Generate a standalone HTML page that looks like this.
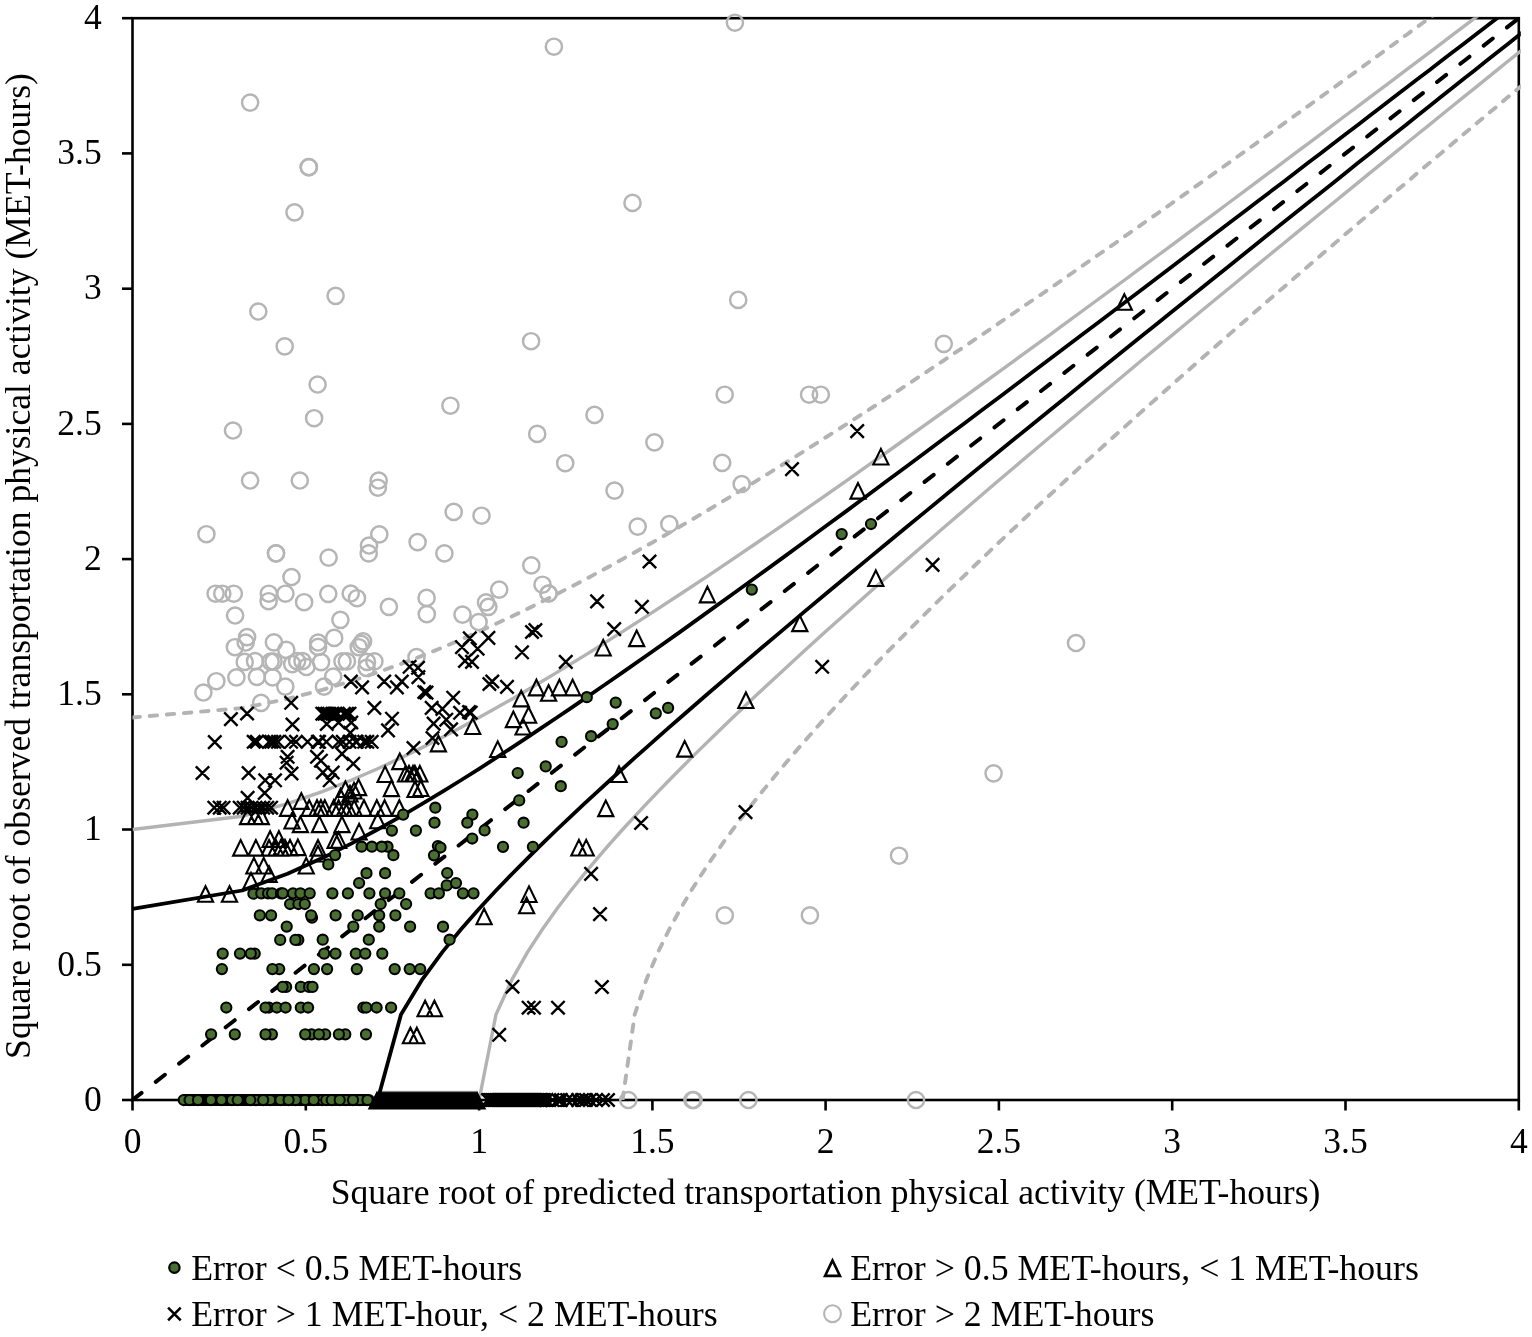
<!DOCTYPE html>
<html><head><meta charset="utf-8"><style>
html,body{margin:0;padding:0;background:#fff;}
svg{display:block;}
text{font-family:"Liberation Serif", "Times New Roman", serif;font-size:35.5px;fill:#000;}
</style></head><body>
<svg width="1532" height="1337" viewBox="0 0 1532 1337">
<rect width="1532" height="1337" fill="#fff"/>
<rect x="132.5" y="18.2" width="1386.3" height="1081.8" fill="none" stroke="#000" stroke-width="2.6"/>
<line x1="122.0" y1="1100.0" x2="132.5" y2="1100.0" stroke="#000" stroke-width="2.6"/>
<line x1="132.5" y1="1100.0" x2="132.5" y2="1110.5" stroke="#000" stroke-width="2.6"/>
<line x1="122.0" y1="964.8" x2="132.5" y2="964.8" stroke="#000" stroke-width="2.6"/>
<line x1="305.8" y1="1100.0" x2="305.8" y2="1110.5" stroke="#000" stroke-width="2.6"/>
<line x1="122.0" y1="829.5" x2="132.5" y2="829.5" stroke="#000" stroke-width="2.6"/>
<line x1="479.1" y1="1100.0" x2="479.1" y2="1110.5" stroke="#000" stroke-width="2.6"/>
<line x1="122.0" y1="694.3" x2="132.5" y2="694.3" stroke="#000" stroke-width="2.6"/>
<line x1="652.4" y1="1100.0" x2="652.4" y2="1110.5" stroke="#000" stroke-width="2.6"/>
<line x1="122.0" y1="559.1" x2="132.5" y2="559.1" stroke="#000" stroke-width="2.6"/>
<line x1="825.6" y1="1100.0" x2="825.6" y2="1110.5" stroke="#000" stroke-width="2.6"/>
<line x1="122.0" y1="423.9" x2="132.5" y2="423.9" stroke="#000" stroke-width="2.6"/>
<line x1="998.9" y1="1100.0" x2="998.9" y2="1110.5" stroke="#000" stroke-width="2.6"/>
<line x1="122.0" y1="288.7" x2="132.5" y2="288.7" stroke="#000" stroke-width="2.6"/>
<line x1="1172.2" y1="1100.0" x2="1172.2" y2="1110.5" stroke="#000" stroke-width="2.6"/>
<line x1="122.0" y1="153.4" x2="132.5" y2="153.4" stroke="#000" stroke-width="2.6"/>
<line x1="1345.5" y1="1100.0" x2="1345.5" y2="1110.5" stroke="#000" stroke-width="2.6"/>
<line x1="122.0" y1="18.2" x2="132.5" y2="18.2" stroke="#000" stroke-width="2.6"/>
<line x1="1518.8" y1="1100.0" x2="1518.8" y2="1110.5" stroke="#000" stroke-width="2.6"/>
<defs><clipPath id="pc"><rect x="132.5" y="17.2" width="1388.3" height="1082.8"/></clipPath></defs>
<g clip-path="url(#pc)" fill="none" stroke-linejoin="round">
<polyline points="132.5,717.5 242.1,708.1 287.5,698.9 322.3,689.8 351.7,681.0 377.6,672.4 401.0,663.9 422.5,655.6 442.5,647.5 461.3,639.4 479.1,631.6 496.0,623.8 512.2,616.2 527.7,608.7 542.6,601.3 557.0,594.0 570.9,586.9 584.4,579.8 597.5,572.8 610.2,565.9 622.6,559.1 652.4,542.5 680.5,526.3 707.2,510.6 732.8,495.3 757.3,480.3 780.9,465.7 803.6,451.5 825.6,437.5 847.0,423.9 867.7,410.5 887.8,397.4 907.5,384.5 926.6,371.8 945.3,359.3 963.6,347.1 981.4,335.1 998.9,323.2 1016.1,311.5 1032.9,300.0 1049.5,288.7 1065.7,277.5 1081.6,266.4 1097.3,255.5 1112.8,244.8 1128.0,234.1 1142.9,223.6 1157.7,213.3 1172.2,203.0 1186.6,192.9 1200.7,182.9 1214.7,172.9 1228.5,163.1 1242.1,153.4 1255.5,143.8 1268.8,134.3 1282.0,124.9 1294.9,115.5 1307.8,106.3 1320.5,97.1 1333.1,88.1 1345.5,79.1 1357.8,70.2 1370.0,61.3 1382.1,52.6 1394.1,43.9 1405.9,35.2 1417.6,26.7 1429.3,18.2 1440.8,9.8 1452.2,1.4 1463.5,-6.9 1474.8,-15.1 1485.9,-23.3 1497.0,-31.4 1507.9,-39.4 1518.8,-47.4 1529.6,-55.4 1540.3,-63.2 1550.9,-71.1" stroke="#b3b3b3" stroke-width="3.9" stroke-dasharray="7.5,9.7" stroke-linecap="round"/>
<polyline points="622.6,1100.0 634.7,1014.5 646.6,979.1 658.1,951.9 669.4,929.0 680.5,908.8 691.3,890.5 702.0,873.7 712.4,858.1 722.7,843.4 732.8,829.5 742.7,816.3 752.5,803.7 762.1,791.6 771.6,780.0 780.9,768.8 790.1,757.9 799.2,747.4 808.1,737.2 816.9,727.2 825.6,717.5 847.0,694.3 867.7,672.4 887.8,651.5 907.5,631.6 926.6,612.4 945.3,594.0 963.6,576.3 981.4,559.1 998.9,542.5 1016.1,526.3 1032.9,510.6 1049.5,495.3 1065.7,480.3 1081.6,465.7 1097.3,451.5 1112.8,437.5 1128.0,423.9 1142.9,410.5 1157.7,397.4 1172.2,384.5 1186.6,371.8 1200.7,359.3 1214.7,347.1 1228.5,335.1 1242.1,323.2 1255.5,311.5 1268.8,300.0 1282.0,288.7 1294.9,277.5 1307.8,266.4 1320.5,255.5 1333.1,244.8 1345.5,234.1 1357.8,223.6 1370.0,213.3 1382.1,203.0 1394.1,192.9 1405.9,182.9 1417.6,172.9 1429.3,163.1 1440.8,153.4 1452.2,143.8 1463.5,134.3 1474.8,124.9 1485.9,115.5 1497.0,106.3 1507.9,97.1 1518.8,88.1 1529.6,79.1 1540.3,70.2 1550.9,61.3 1561.5,52.6 1571.9,43.9 1582.3,35.2 1592.6,26.7 1602.9,18.2 1613.1,9.8 1623.2,1.4 1633.2,-6.9" stroke="#b3b3b3" stroke-width="3.9" stroke-dasharray="7.5,9.7" stroke-linecap="round"/>
<polyline points="132.5,829.5 242.1,816.3 287.5,803.7 322.3,791.6 351.7,780.0 377.6,768.8 401.0,757.9 422.5,747.4 442.5,737.2 461.3,727.2 479.1,717.5 496.0,708.1 512.2,698.9 527.7,689.8 542.6,681.0 557.0,672.4 570.9,663.9 584.4,655.6 597.5,647.5 610.2,639.4 622.6,631.6 652.4,612.4 680.5,594.0 707.2,576.3 732.8,559.1 757.3,542.5 780.9,526.3 803.6,510.6 825.6,495.3 847.0,480.3 867.7,465.7 887.8,451.5 907.5,437.5 926.6,423.9 945.3,410.5 963.6,397.4 981.4,384.5 998.9,371.8 1016.1,359.3 1032.9,347.1 1049.5,335.1 1065.7,323.2 1081.6,311.5 1097.3,300.0 1112.8,288.7 1128.0,277.5 1142.9,266.4 1157.7,255.5 1172.2,244.8 1186.6,234.1 1200.7,223.6 1214.7,213.3 1228.5,203.0 1242.1,192.9 1255.5,182.9 1268.8,172.9 1282.0,163.1 1294.9,153.4 1307.8,143.8 1320.5,134.3 1333.1,124.9 1345.5,115.5 1357.8,106.3 1370.0,97.1 1382.1,88.1 1394.1,79.1 1405.9,70.2 1417.6,61.3 1429.3,52.6 1440.8,43.9 1452.2,35.2 1463.5,26.7 1474.8,18.2 1485.9,9.8 1497.0,1.4 1507.9,-6.9 1518.8,-15.1 1529.6,-23.3 1540.3,-31.4 1550.9,-39.4" stroke="#b3b3b3" stroke-width="3.4"/>
<polyline points="479.1,1100.0 496.0,1014.5 512.2,979.1 527.7,951.9 542.6,929.0 557.0,908.8 570.9,890.5 584.4,873.7 597.5,858.1 610.2,843.4 622.6,829.5 634.7,816.3 646.6,803.7 658.1,791.6 669.4,780.0 680.5,768.8 691.3,757.9 702.0,747.4 712.4,737.2 722.7,727.2 732.8,717.5 757.3,694.3 780.9,672.4 803.6,651.5 825.6,631.6 847.0,612.4 867.7,594.0 887.8,576.3 907.5,559.1 926.6,542.5 945.3,526.3 963.6,510.6 981.4,495.3 998.9,480.3 1016.1,465.7 1032.9,451.5 1049.5,437.5 1065.7,423.9 1081.6,410.5 1097.3,397.4 1112.8,384.5 1128.0,371.8 1142.9,359.3 1157.7,347.1 1172.2,335.1 1186.6,323.2 1200.7,311.5 1214.7,300.0 1228.5,288.7 1242.1,277.5 1255.5,266.4 1268.8,255.5 1282.0,244.8 1294.9,234.1 1307.8,223.6 1320.5,213.3 1333.1,203.0 1345.5,192.9 1357.8,182.9 1370.0,172.9 1382.1,163.1 1394.1,153.4 1405.9,143.8 1417.6,134.3 1429.3,124.9 1440.8,115.5 1452.2,106.3 1463.5,97.1 1474.8,88.1 1485.9,79.1 1497.0,70.2 1507.9,61.3 1518.8,52.6 1529.6,43.9 1540.3,35.2 1550.9,26.7 1561.5,18.2 1571.9,9.8 1582.3,1.4 1592.6,-6.9" stroke="#b3b3b3" stroke-width="3.4"/>
<polyline points="132.5,908.8 242.1,890.5 287.5,873.7 322.3,858.1 351.7,843.4 377.6,829.5 401.0,816.3 422.5,803.7 442.5,791.6 461.3,780.0 479.1,768.8 496.0,757.9 512.2,747.4 527.7,737.2 542.6,727.2 557.0,717.5 570.9,708.1 584.4,698.9 597.5,689.8 610.2,681.0 622.6,672.4 652.4,651.5 680.5,631.6 707.2,612.4 732.8,594.0 757.3,576.3 780.9,559.1 803.6,542.5 825.6,526.3 847.0,510.6 867.7,495.3 887.8,480.3 907.5,465.7 926.6,451.5 945.3,437.5 963.6,423.9 981.4,410.5 998.9,397.4 1016.1,384.5 1032.9,371.8 1049.5,359.3 1065.7,347.1 1081.6,335.1 1097.3,323.2 1112.8,311.5 1128.0,300.0 1142.9,288.7 1157.7,277.5 1172.2,266.4 1186.6,255.5 1200.7,244.8 1214.7,234.1 1228.5,223.6 1242.1,213.3 1255.5,203.0 1268.8,192.9 1282.0,182.9 1294.9,172.9 1307.8,163.1 1320.5,153.4 1333.1,143.8 1345.5,134.3 1357.8,124.9 1370.0,115.5 1382.1,106.3 1394.1,97.1 1405.9,88.1 1417.6,79.1 1429.3,70.2 1440.8,61.3 1452.2,52.6 1463.5,43.9 1474.8,35.2 1485.9,26.7 1497.0,18.2 1507.9,9.8 1518.8,1.4 1529.6,-6.9 1540.3,-15.1 1550.9,-23.3" stroke="#000" stroke-width="3.8"/>
<polyline points="377.6,1100.0 401.0,1014.5 422.5,979.1 442.5,951.9 461.3,929.0 479.1,908.8 496.0,890.5 512.2,873.7 527.7,858.1 542.6,843.4 557.0,829.5 570.9,816.3 584.4,803.7 597.5,791.6 610.2,780.0 622.6,768.8 634.7,757.9 646.6,747.4 658.1,737.2 669.4,727.2 680.5,717.5 707.2,694.3 732.8,672.4 757.3,651.5 780.9,631.6 803.6,612.4 825.6,594.0 847.0,576.3 867.7,559.1 887.8,542.5 907.5,526.3 926.6,510.6 945.3,495.3 963.6,480.3 981.4,465.7 998.9,451.5 1016.1,437.5 1032.9,423.9 1049.5,410.5 1065.7,397.4 1081.6,384.5 1097.3,371.8 1112.8,359.3 1128.0,347.1 1142.9,335.1 1157.7,323.2 1172.2,311.5 1186.6,300.0 1200.7,288.7 1214.7,277.5 1228.5,266.4 1242.1,255.5 1255.5,244.8 1268.8,234.1 1282.0,223.6 1294.9,213.3 1307.8,203.0 1320.5,192.9 1333.1,182.9 1345.5,172.9 1357.8,163.1 1370.0,153.4 1382.1,143.8 1394.1,134.3 1405.9,124.9 1417.6,115.5 1429.3,106.3 1440.8,97.1 1452.2,88.1 1463.5,79.1 1474.8,70.2 1485.9,61.3 1497.0,52.6 1507.9,43.9 1518.8,35.2 1529.6,26.7 1540.3,18.2 1550.9,9.8 1561.5,1.4 1571.9,-6.9" stroke="#000" stroke-width="3.8"/>
<line x1="132.5" y1="1100.0" x2="1518.8" y2="18.2" stroke="#000" stroke-width="4.0" stroke-linecap="round" stroke-dasharray="11.5,18.05"/>
</g>
<g fill="none" stroke="#b5b5b5" stroke-width="2.45"><circle cx="250.1" cy="102.6" r="8.1"/><circle cx="308.8" cy="167.2" r="8.1"/><circle cx="308.8" cy="167.2" r="8.1"/><circle cx="294.5" cy="212.4" r="8.1"/><circle cx="553.9" cy="46.7" r="8.1"/><circle cx="734.9" cy="22.7" r="8.1"/><circle cx="632.5" cy="202.9" r="8.1"/><circle cx="335.6" cy="295.8" r="8.1"/><circle cx="258.3" cy="311.5" r="8.1"/><circle cx="284.7" cy="346.3" r="8.1"/><circle cx="317.6" cy="384.5" r="8.1"/><circle cx="314.1" cy="418.2" r="8.1"/><circle cx="233.0" cy="430.5" r="8.1"/><circle cx="250.1" cy="480.5" r="8.1"/><circle cx="299.8" cy="480.5" r="8.1"/><circle cx="378.7" cy="480.5" r="8.1"/><circle cx="377.9" cy="487.7" r="8.1"/><circle cx="531.1" cy="341.2" r="8.1"/><circle cx="450.4" cy="405.7" r="8.1"/><circle cx="594.5" cy="414.9" r="8.1"/><circle cx="537.2" cy="433.9" r="8.1"/><circle cx="654.4" cy="442.3" r="8.1"/><circle cx="565.2" cy="463.2" r="8.1"/><circle cx="614.5" cy="490.6" r="8.1"/><circle cx="724.7" cy="394.7" r="8.1"/><circle cx="722.2" cy="462.8" r="8.1"/><circle cx="738.2" cy="299.9" r="8.1"/><circle cx="809.1" cy="394.7" r="8.1"/><circle cx="820.8" cy="394.7" r="8.1"/><circle cx="741.7" cy="484.0" r="8.1"/><circle cx="943.8" cy="343.8" r="8.1"/><circle cx="206.4" cy="534.2" r="8.1"/><circle cx="276.0" cy="553.3" r="8.1"/><circle cx="276.0" cy="553.3" r="8.1"/><circle cx="291.5" cy="577.0" r="8.1"/><circle cx="215.6" cy="593.7" r="8.1"/><circle cx="222.3" cy="593.7" r="8.1"/><circle cx="233.8" cy="593.7" r="8.1"/><circle cx="268.8" cy="593.7" r="8.1"/><circle cx="268.6" cy="601.2" r="8.1"/><circle cx="285.4" cy="593.7" r="8.1"/><circle cx="304.1" cy="602.2" r="8.1"/><circle cx="235.1" cy="615.5" r="8.1"/><circle cx="247.1" cy="637.1" r="8.1"/><circle cx="245.7" cy="642.5" r="8.1"/><circle cx="234.9" cy="647.2" r="8.1"/><circle cx="273.9" cy="642.3" r="8.1"/><circle cx="286.3" cy="649.9" r="8.1"/><circle cx="244.7" cy="661.9" r="8.1"/><circle cx="255.0" cy="661.1" r="8.1"/><circle cx="270.6" cy="661.6" r="8.1"/><circle cx="273.5" cy="661.6" r="8.1"/><circle cx="292.2" cy="664.1" r="8.1"/><circle cx="297.1" cy="661.1" r="8.1"/><circle cx="302.5" cy="661.1" r="8.1"/><circle cx="306.4" cy="667.0" r="8.1"/><circle cx="318.1" cy="642.5" r="8.1"/><circle cx="318.1" cy="646.9" r="8.1"/><circle cx="321.1" cy="662.1" r="8.1"/><circle cx="236.4" cy="677.3" r="8.1"/><circle cx="256.9" cy="676.8" r="8.1"/><circle cx="272.6" cy="677.3" r="8.1"/><circle cx="285.3" cy="686.6" r="8.1"/><circle cx="216.3" cy="681.2" r="8.1"/><circle cx="203.4" cy="692.5" r="8.1"/><circle cx="261.1" cy="702.8" r="8.1"/><circle cx="324.0" cy="686.6" r="8.1"/><circle cx="453.7" cy="511.9" r="8.1"/><circle cx="379.3" cy="534.3" r="8.1"/><circle cx="369.0" cy="545.5" r="8.1"/><circle cx="368.7" cy="553.4" r="8.1"/><circle cx="417.6" cy="542.1" r="8.1"/><circle cx="444.4" cy="553.4" r="8.1"/><circle cx="328.6" cy="557.6" r="8.1"/><circle cx="328.3" cy="593.8" r="8.1"/><circle cx="350.7" cy="593.5" r="8.1"/><circle cx="357.0" cy="598.2" r="8.1"/><circle cx="388.9" cy="606.8" r="8.1"/><circle cx="426.6" cy="597.9" r="8.1"/><circle cx="426.8" cy="614.1" r="8.1"/><circle cx="462.5" cy="614.6" r="8.1"/><circle cx="481.5" cy="515.7" r="8.1"/><circle cx="531.3" cy="565.4" r="8.1"/><circle cx="542.5" cy="584.7" r="8.1"/><circle cx="548.6" cy="593.5" r="8.1"/><circle cx="548.6" cy="593.5" r="8.1"/><circle cx="499.2" cy="589.6" r="8.1"/><circle cx="486.0" cy="602.4" r="8.1"/><circle cx="488.4" cy="606.8" r="8.1"/><circle cx="637.7" cy="526.6" r="8.1"/><circle cx="669.3" cy="524.0" r="8.1"/><circle cx="1076.0" cy="643.0" r="8.1"/><circle cx="340.4" cy="619.8" r="8.1"/><circle cx="334.2" cy="637.9" r="8.1"/><circle cx="363.1" cy="641.3" r="8.1"/><circle cx="361.1" cy="643.8" r="8.1"/><circle cx="358.7" cy="647.2" r="8.1"/><circle cx="342.5" cy="661.4" r="8.1"/><circle cx="346.9" cy="661.4" r="8.1"/><circle cx="367.0" cy="661.9" r="8.1"/><circle cx="374.4" cy="661.4" r="8.1"/><circle cx="366.5" cy="667.8" r="8.1"/><circle cx="333.2" cy="676.6" r="8.1"/><circle cx="416.5" cy="657.0" r="8.1"/><circle cx="478.6" cy="622.0" r="8.1"/><circle cx="993.6" cy="773.3" r="8.1"/><circle cx="899.0" cy="855.7" r="8.1"/><circle cx="724.8" cy="915.4" r="8.1"/><circle cx="809.9" cy="915.4" r="8.1"/><circle cx="628.3" cy="1100.0" r="8.1"/><circle cx="692.5" cy="1100.0" r="8.1"/><circle cx="693.5" cy="1100.0" r="8.1"/><circle cx="748.4" cy="1100.0" r="8.1"/><circle cx="916.0" cy="1100.0" r="8.1"/></g>
<path fill="none" stroke="#000" stroke-width="2.4" d="M850.50,424.40l13.4,13.4m0,-13.4l-13.4,13.4M785.30,462.40l13.4,13.4m0,-13.4l-13.4,13.4M284.50,696.10l13.4,13.4m0,-13.4l-13.4,13.4M240.40,706.80l13.4,13.4m0,-13.4l-13.4,13.4M590.40,594.70l13.4,13.4m0,-13.4l-13.4,13.4M642.80,554.80l13.4,13.4m0,-13.4l-13.4,13.4M635.20,600.10l13.4,13.4m0,-13.4l-13.4,13.4M925.90,558.20l13.4,13.4m0,-13.4l-13.4,13.4M344.20,674.80l13.4,13.4m0,-13.4l-13.4,13.4M355.40,680.70l13.4,13.4m0,-13.4l-13.4,13.4M377.50,674.80l13.4,13.4m0,-13.4l-13.4,13.4M395.10,674.80l13.4,13.4m0,-13.4l-13.4,13.4M390.20,680.70l13.4,13.4m0,-13.4l-13.4,13.4M402.90,660.10l13.4,13.4m0,-13.4l-13.4,13.4M411.70,670.40l13.4,13.4m0,-13.4l-13.4,13.4M411.30,661.10l13.4,13.4m0,-13.4l-13.4,13.4M417.60,685.30l13.4,13.4m0,-13.4l-13.4,13.4M419.80,685.90l13.4,13.4m0,-13.4l-13.4,13.4M446.50,691.00l13.4,13.4m0,-13.4l-13.4,13.4M367.70,701.20l13.4,13.4m0,-13.4l-13.4,13.4M385.30,712.00l13.4,13.4m0,-13.4l-13.4,13.4M425.00,701.20l13.4,13.4m0,-13.4l-13.4,13.4M435.70,702.20l13.4,13.4m0,-13.4l-13.4,13.4M453.40,706.10l13.4,13.4m0,-13.4l-13.4,13.4M426.90,716.90l13.4,13.4m0,-13.4l-13.4,13.4M439.60,713.00l13.4,13.4m0,-13.4l-13.4,13.4M455.30,640.50l13.4,13.4m0,-13.4l-13.4,13.4M458.30,654.20l13.4,13.4m0,-13.4l-13.4,13.4M463.10,631.70l13.4,13.4m0,-13.4l-13.4,13.4M481.70,631.20l13.4,13.4m0,-13.4l-13.4,13.4M470.90,642.00l13.4,13.4m0,-13.4l-13.4,13.4M465.30,655.20l13.4,13.4m0,-13.4l-13.4,13.4M525.30,625.30l13.4,13.4m0,-13.4l-13.4,13.4M528.70,623.40l13.4,13.4m0,-13.4l-13.4,13.4M515.30,645.60l13.4,13.4m0,-13.4l-13.4,13.4M559.10,655.20l13.4,13.4m0,-13.4l-13.4,13.4M482.70,677.30l13.4,13.4m0,-13.4l-13.4,13.4M485.60,674.80l13.4,13.4m0,-13.4l-13.4,13.4M500.30,680.20l13.4,13.4m0,-13.4l-13.4,13.4M462.30,705.30l13.4,13.4m0,-13.4l-13.4,13.4M607.50,622.40l13.4,13.4m0,-13.4l-13.4,13.4M815.50,660.10l13.4,13.4m0,-13.4l-13.4,13.4M224.20,712.40l13.4,13.4m0,-13.4l-13.4,13.4M208.10,735.40l13.4,13.4m0,-13.4l-13.4,13.4M195.80,766.30l13.4,13.4m0,-13.4l-13.4,13.4M241.90,766.30l13.4,13.4m0,-13.4l-13.4,13.4M258.50,773.60l13.4,13.4m0,-13.4l-13.4,13.4M268.30,773.60l13.4,13.4m0,-13.4l-13.4,13.4M258.00,786.30l13.4,13.4m0,-13.4l-13.4,13.4M240.90,791.20l13.4,13.4m0,-13.4l-13.4,13.4M207.60,801.00l13.4,13.4m0,-13.4l-13.4,13.4M213.00,801.00l13.4,13.4m0,-13.4l-13.4,13.4M216.90,801.00l13.4,13.4m0,-13.4l-13.4,13.4M233.00,801.00l13.4,13.4m0,-13.4l-13.4,13.4M237.00,801.00l13.4,13.4m0,-13.4l-13.4,13.4M240.90,801.00l13.4,13.4m0,-13.4l-13.4,13.4M244.80,801.00l13.4,13.4m0,-13.4l-13.4,13.4M248.70,801.00l13.4,13.4m0,-13.4l-13.4,13.4M252.60,801.00l13.4,13.4m0,-13.4l-13.4,13.4M256.50,801.00l13.4,13.4m0,-13.4l-13.4,13.4M260.50,801.00l13.4,13.4m0,-13.4l-13.4,13.4M264.40,801.00l13.4,13.4m0,-13.4l-13.4,13.4M285.80,717.80l13.4,13.4m0,-13.4l-13.4,13.4M285.80,717.80l13.4,13.4m0,-13.4l-13.4,13.4M315.60,707.00l13.4,13.4m0,-13.4l-13.4,13.4M317.80,707.00l13.4,13.4m0,-13.4l-13.4,13.4M320.50,707.00l13.4,13.4m0,-13.4l-13.4,13.4M322.50,707.00l13.4,13.4m0,-13.4l-13.4,13.4M325.70,707.00l13.4,13.4m0,-13.4l-13.4,13.4M328.80,707.00l13.4,13.4m0,-13.4l-13.4,13.4M330.90,707.00l13.4,13.4m0,-13.4l-13.4,13.4M337.20,707.00l13.4,13.4m0,-13.4l-13.4,13.4M340.30,707.00l13.4,13.4m0,-13.4l-13.4,13.4M342.80,707.00l13.4,13.4m0,-13.4l-13.4,13.4M320.10,717.30l13.4,13.4m0,-13.4l-13.4,13.4M331.90,715.80l13.4,13.4m0,-13.4l-13.4,13.4M344.60,715.80l13.4,13.4m0,-13.4l-13.4,13.4M381.30,723.70l13.4,13.4m0,-13.4l-13.4,13.4M247.00,735.10l13.4,13.4m0,-13.4l-13.4,13.4M250.20,735.10l13.4,13.4m0,-13.4l-13.4,13.4M262.40,735.10l13.4,13.4m0,-13.4l-13.4,13.4M264.60,735.10l13.4,13.4m0,-13.4l-13.4,13.4M267.60,735.10l13.4,13.4m0,-13.4l-13.4,13.4M271.30,735.10l13.4,13.4m0,-13.4l-13.4,13.4M284.40,735.10l13.4,13.4m0,-13.4l-13.4,13.4M289.30,735.10l13.4,13.4m0,-13.4l-13.4,13.4M300.90,735.10l13.4,13.4m0,-13.4l-13.4,13.4M311.20,735.10l13.4,13.4m0,-13.4l-13.4,13.4M312.40,735.10l13.4,13.4m0,-13.4l-13.4,13.4M319.70,735.10l13.4,13.4m0,-13.4l-13.4,13.4M332.00,735.10l13.4,13.4m0,-13.4l-13.4,13.4M336.10,735.10l13.4,13.4m0,-13.4l-13.4,13.4M342.80,735.10l13.4,13.4m0,-13.4l-13.4,13.4M349.10,735.10l13.4,13.4m0,-13.4l-13.4,13.4M350.00,735.10l13.4,13.4m0,-13.4l-13.4,13.4M357.50,735.10l13.4,13.4m0,-13.4l-13.4,13.4M360.60,735.10l13.4,13.4m0,-13.4l-13.4,13.4M365.00,735.10l13.4,13.4m0,-13.4l-13.4,13.4M505.80,980.00l13.4,13.4m0,-13.4l-13.4,13.4M521.90,1001.00l13.4,13.4m0,-13.4l-13.4,13.4M527.30,1001.00l13.4,13.4m0,-13.4l-13.4,13.4M551.30,1001.00l13.4,13.4m0,-13.4l-13.4,13.4M595.20,980.30l13.4,13.4m0,-13.4l-13.4,13.4M492.50,1028.10l13.4,13.4m0,-13.4l-13.4,13.4M738.80,805.40l13.4,13.4m0,-13.4l-13.4,13.4M634.40,816.30l13.4,13.4m0,-13.4l-13.4,13.4M584.40,867.20l13.4,13.4m0,-13.4l-13.4,13.4M593.30,907.40l13.4,13.4m0,-13.4l-13.4,13.4M444.40,722.70l13.4,13.4m0,-13.4l-13.4,13.4M464.00,706.00l13.4,13.4m0,-13.4l-13.4,13.4M425.80,731.30l13.4,13.4m0,-13.4l-13.4,13.4M343.60,726.10l13.4,13.4m0,-13.4l-13.4,13.4M280.90,750.10l13.4,13.4m0,-13.4l-13.4,13.4M280.90,750.10l13.4,13.4m0,-13.4l-13.4,13.4M279.90,756.00l13.4,13.4m0,-13.4l-13.4,13.4M284.80,766.80l13.4,13.4m0,-13.4l-13.4,13.4M310.30,750.10l13.4,13.4m0,-13.4l-13.4,13.4M314.20,754.00l13.4,13.4m0,-13.4l-13.4,13.4M316.20,765.80l13.4,13.4m0,-13.4l-13.4,13.4M326.00,765.80l13.4,13.4m0,-13.4l-13.4,13.4M323.00,773.60l13.4,13.4m0,-13.4l-13.4,13.4M335.30,747.20l13.4,13.4m0,-13.4l-13.4,13.4M346.60,757.00l13.4,13.4m0,-13.4l-13.4,13.4M406.80,741.30l13.4,13.4m0,-13.4l-13.4,13.4"/>
<path fill="none" stroke="#000" stroke-width="2.1" stroke-linejoin="miter" d="M880.90,448.87l-7.6,15.6h15.2zM858.00,483.07l-7.6,15.6h15.2zM1124.30,294.17l-7.6,15.6h15.2zM707.40,586.77l-7.6,15.6h15.2zM875.80,570.47l-7.6,15.6h15.2zM603.20,639.87l-7.6,15.6h15.2zM536.40,679.77l-7.6,15.6h15.2zM548.60,685.17l-7.6,15.6h15.2zM559.40,679.77l-7.6,15.6h15.2zM572.60,679.77l-7.6,15.6h15.2zM521.20,690.77l-7.6,15.6h15.2zM513.40,711.57l-7.6,15.6h15.2zM528.60,707.17l-7.6,15.6h15.2zM636.70,630.57l-7.6,15.6h15.2zM745.90,692.47l-7.6,15.6h15.2zM799.80,615.57l-7.6,15.6h15.2zM247.60,808.57l-7.6,15.6h15.2zM255.40,808.57l-7.6,15.6h15.2zM261.30,808.57l-7.6,15.6h15.2zM240.70,840.07l-7.6,15.6h15.2zM255.90,840.07l-7.6,15.6h15.2zM270.10,831.27l-7.6,15.6h15.2zM278.90,831.27l-7.6,15.6h15.2zM269.10,840.07l-7.6,15.6h15.2zM276.00,840.07l-7.6,15.6h15.2zM280.90,840.07l-7.6,15.6h15.2zM253.90,857.87l-7.6,15.6h15.2zM263.70,857.87l-7.6,15.6h15.2zM269.10,866.37l-7.6,15.6h15.2zM251.00,872.87l-7.6,15.6h15.2zM205.50,886.17l-7.6,15.6h15.2zM229.50,886.17l-7.6,15.6h15.2zM300.40,816.57l-7.6,15.6h15.2zM319.50,816.57l-7.6,15.6h15.2zM342.00,816.57l-7.6,15.6h15.2zM292.00,812.87l-7.6,15.6h15.2zM377.70,812.67l-7.6,15.6h15.2zM359.10,823.87l-7.6,15.6h15.2zM335.10,832.27l-7.6,15.6h15.2zM338.60,832.27l-7.6,15.6h15.2zM297.90,839.57l-7.6,15.6h15.2zM318.00,840.07l-7.6,15.6h15.2zM318.00,845.87l-7.6,15.6h15.2zM306.20,857.87l-7.6,15.6h15.2zM285.00,839.87l-7.6,15.6h15.2zM290.00,839.87l-7.6,15.6h15.2zM529.00,886.37l-7.6,15.6h15.2zM526.60,897.67l-7.6,15.6h15.2zM484.10,908.67l-7.6,15.6h15.2zM578.90,839.87l-7.6,15.6h15.2zM586.20,839.87l-7.6,15.6h15.2zM425.10,1000.67l-7.6,15.6h15.2zM434.40,1000.67l-7.6,15.6h15.2zM410.40,1027.67l-7.6,15.6h15.2zM416.80,1027.67l-7.6,15.6h15.2zM438.40,735.77l-7.6,15.6h15.2zM472.70,718.37l-7.6,15.6h15.2zM523.10,718.87l-7.6,15.6h15.2zM497.70,741.37l-7.6,15.6h15.2zM419.80,765.87l-7.6,15.6h15.2zM414.90,765.87l-7.6,15.6h15.2zM420.80,780.47l-7.6,15.6h15.2zM684.70,741.07l-7.6,15.6h15.2zM619.00,766.47l-7.6,15.6h15.2zM605.80,800.57l-7.6,15.6h15.2zM399.80,753.57l-7.6,15.6h15.2zM385.10,766.37l-7.6,15.6h15.2zM391.40,780.57l-7.6,15.6h15.2zM405.60,765.87l-7.6,15.6h15.2zM409.00,765.87l-7.6,15.6h15.2zM413.00,765.87l-7.6,15.6h15.2zM415.00,781.47l-7.6,15.6h15.2zM358.60,779.57l-7.6,15.6h15.2zM354.00,782.87l-7.6,15.6h15.2zM350.00,785.87l-7.6,15.6h15.2zM345.40,781.47l-7.6,15.6h15.2zM340.50,788.87l-7.6,15.6h15.2zM301.30,793.27l-7.6,15.6h15.2zM287.60,800.27l-7.6,15.6h15.2zM309.20,800.27l-7.6,15.6h15.2zM317.00,800.27l-7.6,15.6h15.2zM320.90,800.27l-7.6,15.6h15.2zM324.80,800.27l-7.6,15.6h15.2zM333.70,800.27l-7.6,15.6h15.2zM338.60,800.27l-7.6,15.6h15.2zM344.40,800.27l-7.6,15.6h15.2zM348.40,800.27l-7.6,15.6h15.2zM354.20,800.27l-7.6,15.6h15.2zM364.00,800.27l-7.6,15.6h15.2zM376.80,800.27l-7.6,15.6h15.2zM384.60,800.27l-7.6,15.6h15.2zM399.30,800.27l-7.6,15.6h15.2z"/>
<path fill="none" stroke="#000" stroke-width="2.4" d="M481.30,1093.30l13.4,13.4m0,-13.4l-13.4,13.4M483.30,1093.30l13.4,13.4m0,-13.4l-13.4,13.4M485.30,1093.30l13.4,13.4m0,-13.4l-13.4,13.4M487.30,1093.30l13.4,13.4m0,-13.4l-13.4,13.4M489.30,1093.30l13.4,13.4m0,-13.4l-13.4,13.4M491.30,1093.30l13.4,13.4m0,-13.4l-13.4,13.4M493.30,1093.30l13.4,13.4m0,-13.4l-13.4,13.4M495.30,1093.30l13.4,13.4m0,-13.4l-13.4,13.4M497.30,1093.30l13.4,13.4m0,-13.4l-13.4,13.4M499.30,1093.30l13.4,13.4m0,-13.4l-13.4,13.4M501.30,1093.30l13.4,13.4m0,-13.4l-13.4,13.4M503.30,1093.30l13.4,13.4m0,-13.4l-13.4,13.4M505.30,1093.30l13.4,13.4m0,-13.4l-13.4,13.4M507.30,1093.30l13.4,13.4m0,-13.4l-13.4,13.4M509.30,1093.30l13.4,13.4m0,-13.4l-13.4,13.4M511.30,1093.30l13.4,13.4m0,-13.4l-13.4,13.4M513.30,1093.30l13.4,13.4m0,-13.4l-13.4,13.4M515.30,1093.30l13.4,13.4m0,-13.4l-13.4,13.4M517.30,1093.30l13.4,13.4m0,-13.4l-13.4,13.4M519.30,1093.30l13.4,13.4m0,-13.4l-13.4,13.4M521.30,1093.30l13.4,13.4m0,-13.4l-13.4,13.4M523.30,1093.30l13.4,13.4m0,-13.4l-13.4,13.4M525.30,1093.30l13.4,13.4m0,-13.4l-13.4,13.4M527.30,1093.30l13.4,13.4m0,-13.4l-13.4,13.4M529.30,1093.30l13.4,13.4m0,-13.4l-13.4,13.4M531.30,1093.30l13.4,13.4m0,-13.4l-13.4,13.4M533.30,1093.30l13.4,13.4m0,-13.4l-13.4,13.4M535.30,1093.30l13.4,13.4m0,-13.4l-13.4,13.4M537.30,1093.30l13.4,13.4m0,-13.4l-13.4,13.4M539.80,1093.30l13.4,13.4m0,-13.4l-13.4,13.4M545.80,1093.30l13.4,13.4m0,-13.4l-13.4,13.4M551.30,1093.30l13.4,13.4m0,-13.4l-13.4,13.4M554.30,1093.30l13.4,13.4m0,-13.4l-13.4,13.4M560.30,1093.30l13.4,13.4m0,-13.4l-13.4,13.4M565.30,1093.30l13.4,13.4m0,-13.4l-13.4,13.4M571.30,1093.30l13.4,13.4m0,-13.4l-13.4,13.4M575.30,1093.30l13.4,13.4m0,-13.4l-13.4,13.4M579.30,1093.30l13.4,13.4m0,-13.4l-13.4,13.4M583.30,1093.30l13.4,13.4m0,-13.4l-13.4,13.4M589.30,1093.30l13.4,13.4m0,-13.4l-13.4,13.4M596.30,1093.30l13.4,13.4m0,-13.4l-13.4,13.4M601.30,1093.30l13.4,13.4m0,-13.4l-13.4,13.4"/>
<path fill="none" stroke="#000" stroke-width="2.1" stroke-linejoin="miter" d="M377.00,1092.87l-7.6,15.6h15.2zM379.00,1092.87l-7.6,15.6h15.2zM381.00,1092.87l-7.6,15.6h15.2zM383.00,1092.87l-7.6,15.6h15.2zM385.00,1092.87l-7.6,15.6h15.2zM387.00,1092.87l-7.6,15.6h15.2zM389.00,1092.87l-7.6,15.6h15.2zM391.00,1092.87l-7.6,15.6h15.2zM393.00,1092.87l-7.6,15.6h15.2zM395.00,1092.87l-7.6,15.6h15.2zM397.00,1092.87l-7.6,15.6h15.2zM399.00,1092.87l-7.6,15.6h15.2zM401.00,1092.87l-7.6,15.6h15.2zM403.00,1092.87l-7.6,15.6h15.2zM405.00,1092.87l-7.6,15.6h15.2zM407.00,1092.87l-7.6,15.6h15.2zM409.00,1092.87l-7.6,15.6h15.2zM411.00,1092.87l-7.6,15.6h15.2zM413.00,1092.87l-7.6,15.6h15.2zM415.00,1092.87l-7.6,15.6h15.2zM417.00,1092.87l-7.6,15.6h15.2zM419.00,1092.87l-7.6,15.6h15.2zM421.00,1092.87l-7.6,15.6h15.2zM423.00,1092.87l-7.6,15.6h15.2zM425.00,1092.87l-7.6,15.6h15.2zM427.00,1092.87l-7.6,15.6h15.2zM429.00,1092.87l-7.6,15.6h15.2zM431.00,1092.87l-7.6,15.6h15.2zM433.00,1092.87l-7.6,15.6h15.2zM435.00,1092.87l-7.6,15.6h15.2zM437.00,1092.87l-7.6,15.6h15.2zM439.00,1092.87l-7.6,15.6h15.2zM441.00,1092.87l-7.6,15.6h15.2zM443.00,1092.87l-7.6,15.6h15.2zM445.00,1092.87l-7.6,15.6h15.2zM447.00,1092.87l-7.6,15.6h15.2zM449.00,1092.87l-7.6,15.6h15.2zM451.00,1092.87l-7.6,15.6h15.2zM453.00,1092.87l-7.6,15.6h15.2zM455.00,1092.87l-7.6,15.6h15.2zM457.00,1092.87l-7.6,15.6h15.2zM459.00,1092.87l-7.6,15.6h15.2zM461.00,1092.87l-7.6,15.6h15.2zM463.00,1092.87l-7.6,15.6h15.2zM465.00,1092.87l-7.6,15.6h15.2zM467.00,1092.87l-7.6,15.6h15.2zM469.00,1092.87l-7.6,15.6h15.2zM471.00,1092.87l-7.6,15.6h15.2zM473.00,1092.87l-7.6,15.6h15.2zM475.00,1092.87l-7.6,15.6h15.2zM477.00,1092.87l-7.6,15.6h15.2z"/>
<rect x="179" y="1093.9" width="196" height="12.2" rx="6.1" fill="#000"/>
<g fill="#486f2f" stroke="#000" stroke-width="2.05"><circle cx="751.8" cy="589.6" r="5.1"/><circle cx="841.7" cy="534.1" r="5.1"/><circle cx="871.0" cy="524.0" r="5.1"/><circle cx="586.8" cy="697.2" r="5.1"/><circle cx="615.7" cy="702.6" r="5.1"/><circle cx="655.8" cy="713.3" r="5.1"/><circle cx="668.1" cy="707.9" r="5.1"/><circle cx="612.7" cy="724.1" r="5.1"/><circle cx="403.2" cy="814.6" r="5.1"/><circle cx="517.7" cy="773.0" r="5.1"/><circle cx="545.7" cy="766.4" r="5.1"/><circle cx="519.2" cy="800.4" r="5.1"/><circle cx="435.3" cy="807.7" r="5.1"/><circle cx="472.4" cy="814.6" r="5.1"/><circle cx="591.1" cy="736.2" r="5.1"/><circle cx="561.6" cy="741.9" r="5.1"/><circle cx="560.8" cy="786.2" r="5.1"/><circle cx="434.5" cy="822.7" r="5.1"/><circle cx="467.3" cy="822.7" r="5.1"/><circle cx="484.6" cy="830.4" r="5.1"/><circle cx="472.2" cy="838.5" r="5.1"/><circle cx="523.6" cy="822.7" r="5.1"/><circle cx="503.0" cy="846.8" r="5.1"/><circle cx="532.9" cy="846.8" r="5.1"/><circle cx="437.9" cy="846.0" r="5.1"/><circle cx="440.5" cy="847.5" r="5.1"/><circle cx="434.0" cy="855.3" r="5.1"/><circle cx="447.2" cy="873.0" r="5.1"/><circle cx="446.7" cy="885.4" r="5.1"/><circle cx="456.0" cy="883.1" r="5.1"/><circle cx="430.6" cy="893.3" r="5.1"/><circle cx="438.9" cy="893.3" r="5.1"/><circle cx="462.9" cy="893.3" r="5.1"/><circle cx="473.5" cy="893.3" r="5.1"/><circle cx="280.2" cy="939.9" r="5.1"/><circle cx="298.3" cy="939.9" r="5.1"/><circle cx="295.4" cy="939.9" r="5.1"/><circle cx="222.7" cy="953.6" r="5.1"/><circle cx="240.0" cy="953.6" r="5.1"/><circle cx="254.7" cy="953.6" r="5.1"/><circle cx="250.8" cy="953.6" r="5.1"/><circle cx="221.9" cy="969.1" r="5.1"/><circle cx="279.2" cy="969.1" r="5.1"/><circle cx="272.4" cy="969.1" r="5.1"/><circle cx="286.1" cy="986.9" r="5.1"/><circle cx="282.6" cy="986.9" r="5.1"/><circle cx="300.8" cy="986.9" r="5.1"/><circle cx="309.1" cy="986.9" r="5.1"/><circle cx="312.5" cy="986.9" r="5.1"/><circle cx="226.3" cy="1007.5" r="5.1"/><circle cx="268.9" cy="1007.5" r="5.1"/><circle cx="276.8" cy="1007.5" r="5.1"/><circle cx="265.5" cy="1007.5" r="5.1"/><circle cx="285.6" cy="1007.5" r="5.1"/><circle cx="300.8" cy="1007.5" r="5.1"/><circle cx="308.1" cy="1007.5" r="5.1"/><circle cx="443.0" cy="926.7" r="5.1"/><circle cx="322.7" cy="939.7" r="5.1"/><circle cx="368.8" cy="939.7" r="5.1"/><circle cx="449.6" cy="939.7" r="5.1"/><circle cx="324.2" cy="953.6" r="5.1"/><circle cx="335.5" cy="953.6" r="5.1"/><circle cx="355.8" cy="953.6" r="5.1"/><circle cx="365.3" cy="953.6" r="5.1"/><circle cx="382.3" cy="953.6" r="5.1"/><circle cx="313.9" cy="969.1" r="5.1"/><circle cx="327.1" cy="969.1" r="5.1"/><circle cx="356.8" cy="969.1" r="5.1"/><circle cx="394.7" cy="969.1" r="5.1"/><circle cx="409.7" cy="969.1" r="5.1"/><circle cx="420.2" cy="969.1" r="5.1"/><circle cx="211.1" cy="1034.3" r="5.1"/><circle cx="234.8" cy="1034.3" r="5.1"/><circle cx="271.9" cy="1034.3" r="5.1"/><circle cx="265.5" cy="1034.3" r="5.1"/><circle cx="311.5" cy="1034.3" r="5.1"/><circle cx="305.2" cy="1034.3" r="5.1"/><circle cx="325.2" cy="1034.3" r="5.1"/><circle cx="318.9" cy="1034.3" r="5.1"/><circle cx="345.3" cy="1034.3" r="5.1"/><circle cx="338.9" cy="1034.3" r="5.1"/><circle cx="366.0" cy="1034.3" r="5.1"/><circle cx="363.4" cy="1007.5" r="5.1"/><circle cx="366.3" cy="1007.5" r="5.1"/><circle cx="376.6" cy="1007.5" r="5.1"/><circle cx="391.1" cy="1007.5" r="5.1"/><circle cx="253.4" cy="893.7" r="5.1"/><circle cx="261.3" cy="893.3" r="5.1"/><circle cx="268.1" cy="893.3" r="5.1"/><circle cx="272.1" cy="893.3" r="5.1"/><circle cx="280.9" cy="893.3" r="5.1"/><circle cx="259.8" cy="915.3" r="5.1"/><circle cx="271.1" cy="915.3" r="5.1"/><circle cx="391.9" cy="830.6" r="5.1"/><circle cx="415.9" cy="830.6" r="5.1"/><circle cx="387.5" cy="846.7" r="5.1"/><circle cx="361.6" cy="846.7" r="5.1"/><circle cx="371.9" cy="846.7" r="5.1"/><circle cx="381.7" cy="846.7" r="5.1"/><circle cx="393.4" cy="855.2" r="5.1"/><circle cx="335.1" cy="855.1" r="5.1"/><circle cx="328.3" cy="864.4" r="5.1"/><circle cx="366.5" cy="873.2" r="5.1"/><circle cx="385.1" cy="873.2" r="5.1"/><circle cx="359.1" cy="883.0" r="5.1"/><circle cx="282.7" cy="893.3" r="5.1"/><circle cx="293.0" cy="893.3" r="5.1"/><circle cx="300.4" cy="893.3" r="5.1"/><circle cx="309.7" cy="893.3" r="5.1"/><circle cx="332.4" cy="893.3" r="5.1"/><circle cx="347.9" cy="893.3" r="5.1"/><circle cx="369.4" cy="893.3" r="5.1"/><circle cx="385.1" cy="893.3" r="5.1"/><circle cx="399.3" cy="893.3" r="5.1"/><circle cx="290.1" cy="904.0" r="5.1"/><circle cx="298.4" cy="904.0" r="5.1"/><circle cx="304.8" cy="904.0" r="5.1"/><circle cx="380.7" cy="904.0" r="5.1"/><circle cx="406.1" cy="904.0" r="5.1"/><circle cx="312.0" cy="917.7" r="5.1"/><circle cx="311.1" cy="915.3" r="5.1"/><circle cx="335.6" cy="915.3" r="5.1"/><circle cx="357.7" cy="915.3" r="5.1"/><circle cx="379.2" cy="915.3" r="5.1"/><circle cx="395.4" cy="915.3" r="5.1"/><circle cx="286.7" cy="926.6" r="5.1"/><circle cx="353.3" cy="926.6" r="5.1"/><circle cx="379.2" cy="926.6" r="5.1"/><circle cx="410.1" cy="926.6" r="5.1"/><circle cx="256.0" cy="1100.0" r="5.1"/><circle cx="300.8" cy="1100.0" r="5.1"/><circle cx="322.3" cy="1100.0" r="5.1"/><circle cx="345.8" cy="1100.0" r="5.1"/><circle cx="359.9" cy="1100.0" r="5.1"/><circle cx="183.7" cy="1100.0" r="5.1"/><circle cx="189.6" cy="1100.0" r="5.1"/><circle cx="231.9" cy="1100.0" r="5.1"/><circle cx="305.0" cy="1100.0" r="5.1"/><circle cx="326.2" cy="1100.0" r="5.1"/><circle cx="331.7" cy="1100.0" r="5.1"/><circle cx="270.2" cy="1100.0" r="5.1"/><circle cx="295.7" cy="1100.0" r="5.1"/><circle cx="198.0" cy="1100.0" r="5.1"/><circle cx="210.9" cy="1100.0" r="5.1"/><circle cx="221.4" cy="1100.0" r="5.1"/><circle cx="237.7" cy="1100.0" r="5.1"/><circle cx="250.3" cy="1100.0" r="5.1"/><circle cx="263.2" cy="1100.0" r="5.1"/><circle cx="280.4" cy="1100.0" r="5.1"/><circle cx="288.6" cy="1100.0" r="5.1"/><circle cx="313.8" cy="1100.0" r="5.1"/><circle cx="339.7" cy="1100.0" r="5.1"/><circle cx="353.0" cy="1100.0" r="5.1"/><circle cx="367.5" cy="1100.0" r="5.1"/></g>
<text x="101.7" y="1110.7" text-anchor="end">0</text>
<text x="132.5" y="1153" text-anchor="middle">0</text>
<text x="101.7" y="975.5" text-anchor="end">0.5</text>
<text x="305.8" y="1153" text-anchor="middle">0.5</text>
<text x="101.7" y="840.2" text-anchor="end">1</text>
<text x="479.1" y="1153" text-anchor="middle">1</text>
<text x="101.7" y="705.0" text-anchor="end">1.5</text>
<text x="652.4" y="1153" text-anchor="middle">1.5</text>
<text x="101.7" y="569.8" text-anchor="end">2</text>
<text x="825.6" y="1153" text-anchor="middle">2</text>
<text x="101.7" y="434.6" text-anchor="end">2.5</text>
<text x="998.9" y="1153" text-anchor="middle">2.5</text>
<text x="101.7" y="299.4" text-anchor="end">3</text>
<text x="1172.2" y="1153" text-anchor="middle">3</text>
<text x="101.7" y="164.1" text-anchor="end">3.5</text>
<text x="1345.5" y="1153" text-anchor="middle">3.5</text>
<text x="101.7" y="28.9" text-anchor="end">4</text>
<text x="1518.8" y="1153" text-anchor="middle">4</text>
<text x="825.5" y="1204.3" text-anchor="middle" style="font-size:35.6px">Square root of predicted transportation physical activity (MET-hours)</text>
<text transform="translate(30,566) rotate(-90)" text-anchor="middle" style="font-size:35.6px">Square root of observed transportation physical activity (MET-hours)</text>
<circle cx="174.4" cy="1267.6" r="5.2" fill="#486f2f" stroke="#000" stroke-width="2.2"/>
<text x="191.2" y="1279.6" style="font-size:35.8px">Error &lt; 0.5 MET-hours</text>
<path d="M168.1,1307.7 l12.6,12.6 M180.7,1307.7 l-12.6,12.6" stroke="#000" stroke-width="2.6" fill="none"/>
<text x="191.2" y="1325.6" style="font-size:35.8px">Error &gt; 1 MET-hour, &lt; 2 MET-hours</text>
<path d="M832.5,1260.4 L825.05,1275.9 H839.95 Z" fill="none" stroke="#000" stroke-width="2.6" stroke-linejoin="miter"/>
<text x="850.2" y="1279.6" style="font-size:35.8px">Error &gt; 0.5 MET-hours, &lt; 1 MET-hours</text>
<circle cx="832.5" cy="1313.7" r="8.4" fill="none" stroke="#b5b5b5" stroke-width="2.1"/>
<text x="850.2" y="1325.6" style="font-size:35.8px">Error &gt; 2 MET-hours</text>
</svg></body></html>
